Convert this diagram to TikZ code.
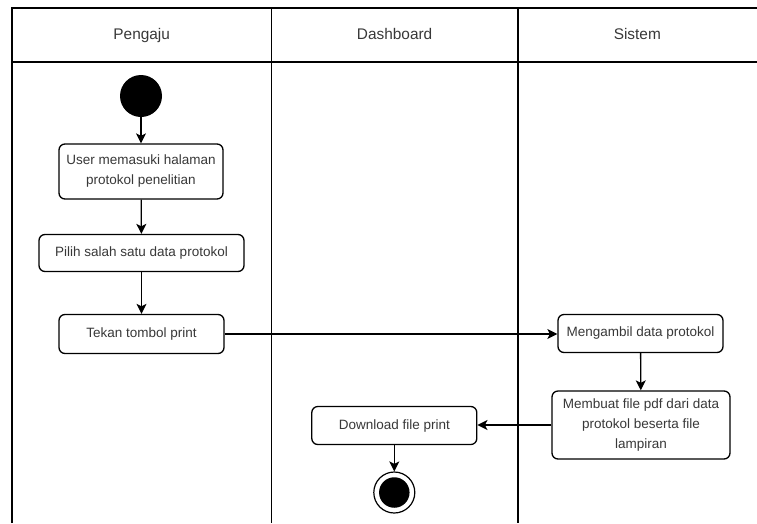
\documentclass[tikz,border=0pt]{standalone}
\usepackage{fontspec}
\setmainfont{Liberation Sans}
\usetikzlibrary{arrows.meta}
\definecolor{txt}{HTML}{383838}
\tikzset{
  lane/.style={line width=1.6pt, draw=black},
  actbox/.style={draw=black, line width=1.3pt, rounded corners=6pt, fill=white,
    align=center, text=txt, font=\fontsize{13.5}{20}\selectfont, inner sep=0pt},
  flow/.style={line width=1.3pt, draw=black, -{Stealth[length=10pt, width=10pt, inset=2.5pt]}},
  lanehead/.style={text=txt, font=\fontsize{15.4}{18}\selectfont, anchor=base},
}
\begin{document}
\begin{tikzpicture}[x=1pt, y=-1pt]
  \useasboundingbox (0,0) rectangle (757,523);
  % swimlane frame
  \draw[lane] (12,523) -- (12,8) -- (757,8);
  \draw[lane] (12,62) -- (757,62);
  \draw[lane] (271.5,8) -- (271.5,523);
  \draw[lane] (517.7,8) -- (517.7,523);
  % lane titles
  \node[lanehead] (hp) at (141.7,39.5) {Pengaju};
  \node[lanehead] (hd) at (394.6,39.5) {Dashboard};
  \node[lanehead] (hs) at (637.3,39.5) {Sistem};
  % start and end
  \node[circle, fill=black, minimum size=42pt, inner sep=0pt] (start) at (141,96) {};
  \node[circle, draw=black, line width=1.2pt, minimum size=41pt, inner sep=0pt] (end) at (394.3,492.5) {};
  \node[circle, fill=black, minimum size=30.5pt, inner sep=0pt] (endin) at (394.3,492.5) {};
  % activities
  \node[actbox, minimum width=164pt, minimum height=55pt] (b1) at (141,171.5) {User memasuki halaman\\protokol penelitian};
  \node[actbox, minimum width=205pt, minimum height=37pt] (b2) at (141.5,253) {Pilih salah satu data protokol};
  \node[actbox, minimum width=165pt, minimum height=39pt] (b3) at (141.5,334) {Tekan tombol print};
  \node[actbox, minimum width=165pt, minimum height=38pt] (s1) at (640.5,333.5) {Mengambil data protokol};
  \node[actbox, minimum width=178pt, minimum height=68pt] (s2) at (641,425) {Membuat file pdf dari data\\protokol beserta file\\lampiran};
  \node[actbox, minimum width=165pt, minimum height=38pt] (d1) at (394.3,425.5) {Download file print};
  % control flow
  \draw[flow] (start) -- (b1);
  \draw[flow] (b1) -- (b2);
  \draw[flow] (b2) -- (b3);
  \draw[flow] (b3.east) -- (b3.east -| s1.west);
  \draw[flow] (s1) -- (s2);
  \draw[flow] (s2.west) -- (s2.west -| d1.east);
  \draw[flow] (d1) -- (end);
\end{tikzpicture}
\end{document}
